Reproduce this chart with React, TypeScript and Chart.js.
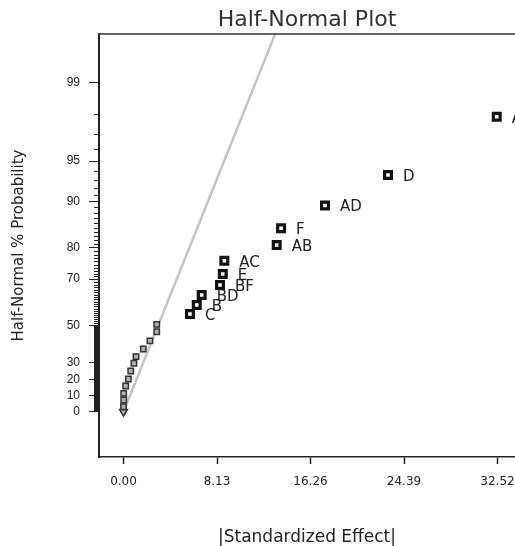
import { useEffect, useRef } from "react";
import { Chart, registerables } from "chart.js";

Chart.register(...registerables);

// Labelled (significant) effects: name, |standardized effect|, half-normal % probability
const labeledEffectNames = ["A", "D", "AD", "F", "AB", "AC", "E", "BF", "BD", "B", "C"];
const labeledEffectValues = [32.45, 23.0, 17.52, 13.7, 13.32, 8.77, 8.63, 8.39, 6.8, 6.37, 5.78];
const labeledProbabilities = [97.89, 93.58, 89.31, 84.84, 80.76, 76.22, 71.84, 67.81, 63.84, 59.59, 55.51];

// Small (unlabelled) effects
const smallEffectValues = [2.89, 2.89, 2.3, 1.72, 1.09, 0.91, 0.63, 0.42, 0.19, 0.02, 0.02, 0.0];
const smallProbabilities = [50.5, 46.8, 42.0, 37.6, 33.3, 29.5, 25.0, 20.2, 15.9, 11.4, 7.3, 3.1];

// Error estimate (triangle marker)
const errorEffectValues = [0.0];
const errorProbabilities = [0];

// Reference line through the origin
const refLineEffect = [0, 13.5];
const refLineProbability = [0, 99.75];

// Axis ticks
const xTickValues = [0, 8.13, 16.26, 24.39, 32.52];
const xTickLabels = ["0.00", "8.13", "16.26", "24.39", "32.52"];
const yMajorPercents = [0, 10, 20, 30, 50, 70, 80, 90, 95, 99];
const yMajorLabels = ["0", "10", "20", "30", "50", "70", "80", "90", "95", "99"];
const yMinorPercents = Array.from({ length: 196 }, (_, i) => (i + 1) / 2).filter(
  (p) => !yMajorPercents.includes(p) && (p <= 50 || Number.isInteger(p))
);

// inverse standard normal CDF (Acklam)
function normInv(p: number): number {
  const a = [-3.969683028665376e1, 2.209460984245205e2, -2.759285104469687e2, 1.38357751867269e2, -3.066479806614716e1, 2.506628277459239];
  const b = [-5.447609879822406e1, 1.615858368580409e2, -1.556989798598866e2, 6.680131188771972e1, -1.328068155833038e1];
  const c = [-7.784894002430293e-3, -3.223964580411365e-1, -2.400758277161838, -2.549732539343734, 4.374664141464968, 2.938163982698783];
  const d = [7.784695709041462e-3, 3.224671290700398e-1, 2.445134137142996, 3.754408661907416];
  const pl = 0.02425;
  const ph = 1 - pl;
  let q: number, r: number;
  if (p < pl) {
    q = Math.sqrt(-2 * Math.log(p));
    return (((((c[0] * q + c[1]) * q + c[2]) * q + c[3]) * q + c[4]) * q + c[5]) / ((((d[0] * q + d[1]) * q + d[2]) * q + d[3]) * q + 1);
  }
  if (p <= ph) {
    q = p - 0.5;
    r = q * q;
    return ((((((a[0] * r + a[1]) * r + a[2]) * r + a[3]) * r + a[4]) * r + a[5]) * q) / (((((b[0] * r + b[1]) * r + b[2]) * r + b[3]) * r + b[4]) * r + 1);
  }
  q = Math.sqrt(-2 * Math.log(1 - p));
  return -(((((c[0] * q + c[1]) * q + c[2]) * q + c[3]) * q + c[4]) * q + c[5]) / ((((d[0] * q + d[1]) * q + d[2]) * q + d[3]) * q + 1);
}
// half-normal quantile of a % probability
const hz = (pct: number) => (pct <= 0 ? 0 : normInv(0.5 + pct / 200));

const decorPlugin = {
  id: "decor",
  afterDraw(chart: any) {
    const { ctx, chartArea, scales } = chart;
    const y = scales.y;
    ctx.save();
    ctx.strokeStyle = "#222";
    ctx.lineWidth = 1;
    ctx.beginPath();
    for (const p of yMinorPercents) {
      const py = Math.round(y.getPixelForValue(hz(p))) + 0.5;
      ctx.moveTo(chartArea.left - 5, py);
      ctx.lineTo(chartArea.left, py);
    }
    ctx.stroke();
    ctx.strokeStyle = "#333";
    ctx.lineWidth = 1.5;
    ctx.beginPath();
    ctx.moveTo(chartArea.left, chartArea.top);
    ctx.lineTo(chartArea.right, chartArea.top);
    ctx.stroke();
    const meta = chart.getDatasetMeta(0);
    ctx.font = '15px "DejaVu Sans"';
    ctx.fillStyle = "#222";
    ctx.textAlign = "left";
    ctx.textBaseline = "middle";
    meta.data.forEach((el: any, i: number) => {
      ctx.fillText(labeledEffectNames[i], el.x + 15, el.y + 2);
    });
    ctx.restore();
  },
};

export default function App() {
  const canvasRef = useRef<HTMLCanvasElement | null>(null);

  useEffect(() => {
    if (!canvasRef.current) return;
    const chart = new Chart(canvasRef.current, {
      type: "scatter",
      data: {
        datasets: [
          {
            data: labeledEffectValues.map((x, i) => ({ x, y: hz(labeledProbabilities[i]) })),
            pointStyle: "rect",
            pointRadius: 4.8,
            pointBorderWidth: 3.2,
            pointBackgroundColor: "#ffffff",
            pointBorderColor: "#111111",
          },
          {
            data: smallEffectValues.map((x, i) => ({ x, y: hz(smallProbabilities[i]) })),
            pointStyle: "rect",
            pointRadius: 3.8,
            pointBorderWidth: 1.5,
            pointBackgroundColor: "#b0b0b0",
            pointBorderColor: "#333333",
          },
          {
            data: errorEffectValues.map((x, i) => ({ x, y: hz(errorProbabilities[i]) })),
            pointStyle: "triangle",
            pointRotation: 180,
            pointRadius: 4.5,
            pointBorderWidth: 1.5,
            pointBackgroundColor: "#b0b0b0",
            pointBorderColor: "#333333",
          },
          {
            data: refLineEffect.map((x, i) => ({ x, y: hz(refLineProbability[i]) })),
            showLine: true,
            pointRadius: 0,
            borderColor: "#c4c4c4",
            borderWidth: 2.5,
          },
        ],
      },
      options: {
        responsive: false,
        animation: false,
        layout: { padding: 0, autoPadding: false },
        plugins: {
          legend: { display: false },
          tooltip: { enabled: false },
          title: {
            display: true,
            text: "Half-Normal Plot",
            fullSize: false,
            color: "#333",
            font: { family: "DejaVu Sans", size: 22, weight: "normal", lineHeight: 1 },
            padding: { top: 9, bottom: 3 },
          },
        },
        scales: {
          x: {
            type: "linear",
            min: -2.13,
            max: 34.04,
            afterBuildTicks: (s: any) => {
              s.ticks = xTickValues.map((v) => ({ value: v }));
            },
            afterFit: (s: any) => {
              s.height = 89;
              s.paddingRight = 0;
              s.paddingLeft = 0;
            },
            ticks: {
              callback: (_v: any, i: number) => xTickLabels[i],
              font: { family: "DejaVu Sans", size: 12 },
              color: "#222",
              padding: 11,
              maxRotation: 0,
              autoSkip: false,
            },
            grid: { drawOnChartArea: false, tickLength: 7, tickColor: "#222", tickWidth: 1.5 },
            border: { color: "#222", width: 1.5 },
            title: {
              display: true,
              text: "|Standardized Effect|",
              color: "#222",
              font: { family: "DejaVu Sans", size: 17, lineHeight: 1 },
              padding: { top: 0, bottom: 0 },
            },
          },
          y: {
            type: "linear",
            min: -0.354,
            max: 2.953,
            afterBuildTicks: (s: any) => {
              s.ticks = yMajorPercents.map((p) => ({ value: hz(p) }));
            },
            afterFit: (s: any) => {
              s.width = 99;
              s.paddingTop = 0;
              s.paddingBottom = 0;
            },
            ticks: {
              callback: (_v: any, i: number) => yMajorLabels[i],
              font: { family: "Liberation Sans", size: 12 },
              color: "#222",
              padding: 9,
              autoSkip: false,
            },
            grid: { drawOnChartArea: false, tickLength: 10, tickColor: "#222", tickWidth: 1 },
            border: { color: "#222", width: 2 },
            title: {
              display: true,
              text: "Half-Normal % Probability",
              color: "#222",
              font: { family: "DejaVu Sans", size: 15, lineHeight: 1 },
              padding: { top: 11.5, bottom: 0 },
            },
          },
        },
      },
      plugins: [decorPlugin],
    });
    return () => chart.destroy();
  }, []);

  return (
    <div style={{ position: "absolute", left: 0, top: 0, width: 515, height: 546, background: "#fff" }}>
      <canvas ref={canvasRef} width={515} height={546} style={{ display: "block" }} />
    </div>
  );
}
